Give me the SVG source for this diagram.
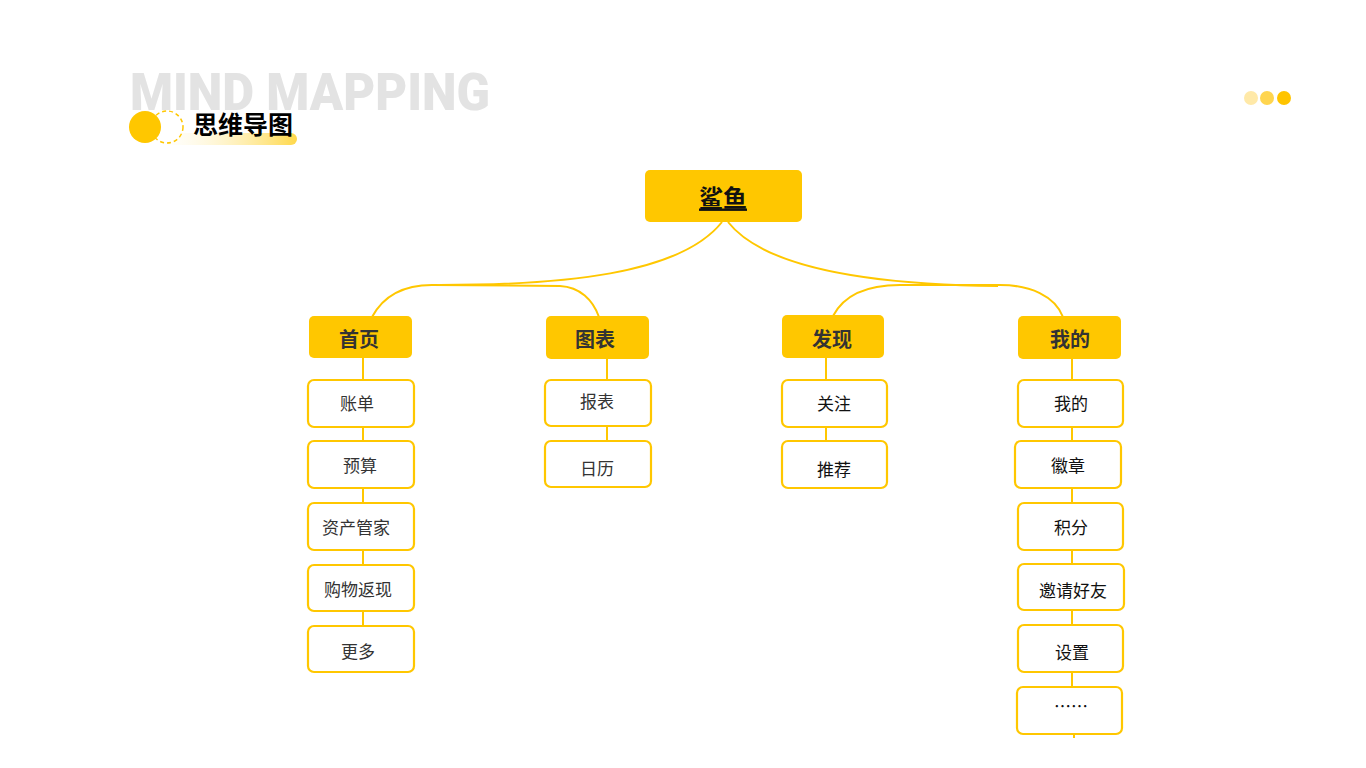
<svg xmlns="http://www.w3.org/2000/svg" width="1366" height="768" viewBox="0 0 1366 768">
<defs>
<linearGradient id="bar" x1="0" y1="0" x2="1" y2="0">
<stop offset="0" stop-color="#fff6d0" stop-opacity="0"/>
<stop offset="1" stop-color="#ffd84a"/>
</linearGradient>
<style>
.t{font-family:"Noto Sans CJK SC","Noto Sans",sans-serif;text-anchor:middle;dominant-baseline:central}
.l1 rect{fill:#ffc700}
.l1 text{font-size:20px;font-weight:bold;fill:#333}
.l2 rect{fill:#fff;stroke:#ffc700;stroke-width:2.2}
.l2 text{font-size:17px;fill:#333}
.l2.k text{fill:#111}
.c path{fill:none;stroke:#ffc700;stroke-width:2}
</style>
</defs>
<rect width="1366" height="768" fill="#fff"/>
<text x="130" y="110" font-family="Roboto,'Liberation Sans',sans-serif" font-weight="900" font-size="51" fill="#e3e3e3" textLength="360" lengthAdjust="spacingAndGlyphs">MIND MAPPING</text>
<rect x="160" y="133" width="137" height="12" rx="6" fill="url(#bar)"/>
<circle cx="167" cy="127" r="16" fill="#fff" stroke="#ffc700" stroke-width="1.5" stroke-dasharray="4 3"/>
<circle cx="145" cy="127" r="16" fill="#ffc700"/>
<text x="193" y="134" font-family="'Noto Sans CJK SC',sans-serif" font-weight="bold" font-size="25" fill="#000">思维导图</text>
<circle cx="1251" cy="98" r="7" fill="#ffe9a8"/>
<circle cx="1267" cy="98" r="7" fill="#ffd54f"/>
<circle cx="1284" cy="98" r="7" fill="#ffc400"/>
<g class="c" id="connectors">
<path d="M722,222 C680,275 560,285 440,285"/>
<path d="M372,317 C385,293 408,285 432,285 L560,286 C580,287 593,300 599,317"/>
<path d="M728,222 C770,275 900,285 998,286"/>
<path d="M833,316 C845,293 870,285 900,285 L1000,285 C1030,285 1055,296 1063,317"/>
<path d="M363,358 V380 M363,427 V441 M363,488 V503 M363,550 V565 M363,611 V626"/>
<path d="M607,359 V380 M607,426 V441"/>
<path d="M826,358 V380 M826,427 V441"/>
<path d="M1072,359 V380 M1072,427 V441 M1072,488 V503 M1072,550 V564 M1072,610 V625 M1072,672 V687 M1074,734 V738"/>
</g>
<g id="root">
<rect x="645" y="170" width="157" height="52" rx="5" fill="#ffc700"/>
<text class="t" x="723" y="196" font-size="24" font-weight="bold" fill="#111" text-decoration="underline">鲨鱼</text>
</g>
<g id="n-shouye" class="l1"><rect x="309" y="316" width="103" height="42" rx="5"/><text class="t" x="359" y="338">首页</text></g>
<g id="n-tubiao" class="l1"><rect x="546" y="316" width="103" height="43" rx="5"/><text class="t" x="595" y="338">图表</text></g>
<g id="n-faxian" class="l1"><rect x="782" y="315" width="102" height="43" rx="5"/><text class="t" x="832" y="338">发现</text></g>
<g id="n-wode" class="l1"><rect x="1018" y="316" width="103" height="43" rx="5"/><text class="t" x="1070" y="338" fill="#111">我的</text></g>
<g id="n-zhangdan" class="l2"><rect x="308" y="380" width="106" height="47" rx="6"/><text class="t" x="357" y="402">账单</text></g>
<g id="n-yusuan" class="l2"><rect x="308" y="441" width="106" height="47" rx="6"/><text class="t" x="360" y="464">预算</text></g>
<g id="n-zichan" class="l2"><rect x="308" y="503" width="106" height="47" rx="6"/><text class="t" x="356" y="526">资产管家</text></g>
<g id="n-gouwu" class="l2"><rect x="308" y="565" width="106" height="46" rx="6"/><text class="t" x="358" y="588">购物返现</text></g>
<g id="n-gengduo" class="l2"><rect x="308" y="626" width="106" height="46" rx="6"/><text class="t" x="358" y="650">更多</text></g>
<g id="n-baobiao" class="l2"><rect x="545" y="380" width="106" height="46" rx="6"/><text class="t" x="597" y="400">报表</text></g>
<g id="n-rili" class="l2"><rect x="545" y="441" width="106" height="46" rx="6"/><text class="t" x="597" y="467">日历</text></g>
<g id="n-guanzhu" class="l2 k"><rect x="782" y="380" width="105" height="47" rx="6"/><text class="t" x="834" y="402">关注</text></g>
<g id="n-tuijian" class="l2 k"><rect x="782" y="441" width="105" height="47" rx="6"/><text class="t" x="834" y="468">推荐</text></g>
<g id="n-wode2" class="l2 k"><rect x="1018" y="380" width="105" height="47" rx="6"/><text class="t" x="1071" y="402">我的</text></g>
<g id="n-huizhang" class="l2 k"><rect x="1015" y="441" width="106" height="47" rx="6"/><text class="t" x="1068" y="464">徽章</text></g>
<g id="n-jifen" class="l2 k"><rect x="1018" y="503" width="105" height="47" rx="6"/><text class="t" x="1071" y="526">积分</text></g>
<g id="n-yaoqing" class="l2 k"><rect x="1018" y="564" width="106" height="46" rx="6"/><text class="t" x="1073" y="589">邀请好友</text></g>
<g id="n-shezhi" class="l2 k"><rect x="1018" y="625" width="105" height="47" rx="6"/><text class="t" x="1072" y="651">设置</text></g>
<g id="n-more" class="l2 k"><rect x="1017" y="687" width="105" height="47" rx="6"/><text class="t" x="1071" y="705">……</text></g>
</svg>
